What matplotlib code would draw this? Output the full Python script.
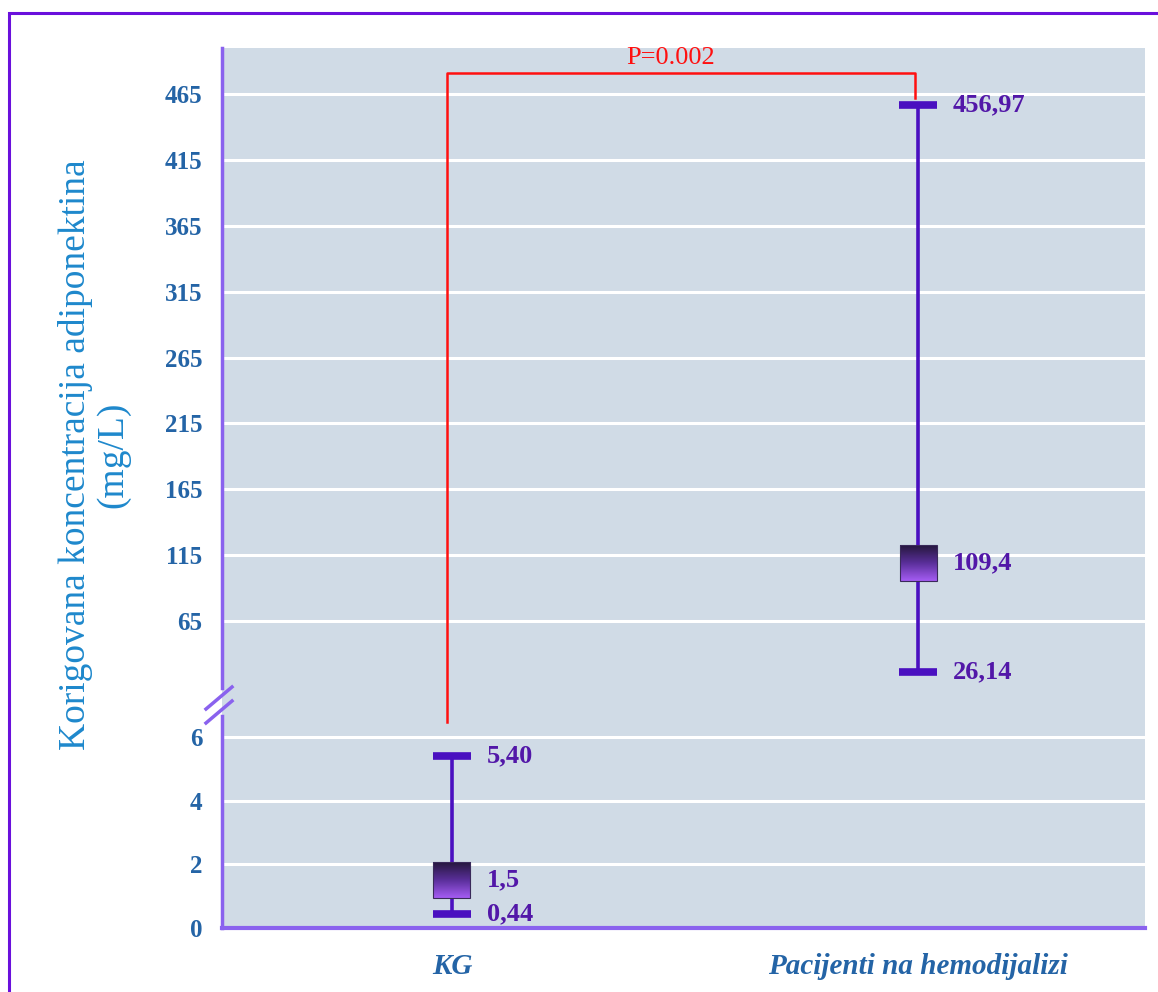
import numpy as np
import matplotlib
matplotlib.use("Agg")
import matplotlib.pyplot as plt
from matplotlib.patches import Rectangle
from matplotlib.lines import Line2D
from matplotlib.colors import LinearSegmentedColormap

# ---- data ----
groups = ["KG", "Pacijenti na hemodijalizi"]
group_x = [1, 3]
mins = [0.44, 26.14]
medians = [1.5, 109.4]
maxs = [5.40, 456.97]
min_labels = ["0,44", "26,14"]
median_labels = ["1,5", "109,4"]
max_labels = ["5,40", "456,97"]
upper_ticks = [65, 115, 165, 215, 265, 315, 365, 415, 465]
lower_ticks = [0, 2, 4, 6]
p_text = "P=0.002"

W, H = 1158, 992
fig = plt.figure(figsize=(W / 100, H / 100), dpi=100)
serif = ["Liberation Serif", "DejaVu Serif"]

bg = "#d0dbe6"
spine_c = "#8a62ee"
line_c = "#4a10c0"
lab_c = "#5217a8"
tick_c = "#2464a6"

def px(x0, y0, x1, y1):
    return [x0 / W, 1 - y1 / H, (x1 - x0) / W, (y1 - y0) / H]

ax_up = fig.add_axes(px(222, 48, 1145, 705))
ax_lo = fig.add_axes(px(222, 705, 1145, 928))

ax_up.set_ylim(1.3, 500)
ax_lo.set_ylim(0, 7.0)
for ax, ticks in ((ax_up, upper_ticks), (ax_lo, lower_ticks)):
    ax.set_facecolor(bg)
    ax.set_xlim(0.013, 3.974)
    ax.set_yticks(ticks)
    ax.set_yticklabels([str(t) for t in ticks], fontfamily=serif,
                       fontweight="bold", fontsize=18, color=tick_c)
    ax.tick_params(axis="y", length=0, pad=14)
    ax.tick_params(axis="x", length=0)
    for s in ("top", "right"):
        ax.spines[s].set_visible(False)
    ax.spines["left"].set_color(spine_c)
    ax.spines["left"].set_linewidth(2.5)
    ax.grid(axis="y", color="white", linewidth=2.2)
    ax.set_axisbelow(True)

ax_up.spines["bottom"].set_visible(False)
ax_up.set_xticks([])
ax_up.spines["left"].set_bounds(14, 500)
ax_lo.spines["left"].set_bounds(0, 6.66)
ax_lo.spines["bottom"].set_color(spine_c)
ax_lo.spines["bottom"].set_linewidth(3)
ax_lo.set_xticks(group_x)
ax_lo.set_xticklabels(groups, fontfamily=serif, fontweight="bold",
                      fontstyle="italic", fontsize=21, color=tick_c)
ax_lo.tick_params(axis="x", pad=18)

# gradient for boxes (dark on top, violet at bottom)
grad = np.linspace(0, 1, 64).reshape(-1, 1)
cmap = LinearSegmentedColormap.from_list("g", ["#26183e", "#5a2f9a", "#a45cf2"])

axes_for = [ax_lo, ax_up]
for i in range(len(groups)):
    ax = axes_for[i]
    x = group_x[i]
    ax.plot([x, x], [mins[i], maxs[i]], color=line_c, lw=2.6, zorder=3,
            solid_capstyle="butt")
    for v in (mins[i], maxs[i]):
        ax.plot([x], [v], marker="_", markersize=27, mew=5.5, color=line_c, zorder=4)
    cx, cy = ax.transData.transform((x, medians[i]))
    inv = ax.transData.inverted()
    (x0, y0) = inv.transform((cx - 18.5, cy - 18))
    (x1, y1) = inv.transform((cx + 18.5, cy + 18))
    ax.imshow(grad, cmap=cmap, extent=[x0, x1, y0, y1], aspect="auto",
              zorder=5, origin="upper")
    ax.add_patch(Rectangle((x0, y0), x1 - x0, y1 - y0, fill=False,
                           edgecolor="#3a2a5a", lw=0.8, zorder=6))
    lx = x + 0.15
    for v, t in ((mins[i], min_labels[i]), (medians[i], median_labels[i]),
                 (maxs[i], max_labels[i])):
        ax.text(lx, v, t, fontfamily=serif, fontweight="bold", fontsize=19,
                color=lab_c, va="center", ha="left", zorder=7)

ax_up.set_xlim(0.013, 3.974)
ax_lo.set_xlim(0.013, 3.974)
ax_up.set_aspect("auto")
ax_lo.set_aspect("auto")

# break marks
for dy in (-7, 7):
    yb = 705 + dy
    fig.add_artist(Line2D([206 / W, 232 / W], [1 - (yb + 11) / H, 1 - (yb - 11) / H],
                          transform=fig.transFigure, color=spine_c, lw=2.5))

# p-value bracket spanning both panels
def to_fig(ax, x, y):
    d = ax.transData.transform((x, y))
    return fig.transFigure.inverted().transform(d)

p1 = to_fig(ax_lo, 0.979, 6.47)
p2 = to_fig(ax_up, 0.979, 481)
p3 = to_fig(ax_up, 2.987, 481)
p4 = to_fig(ax_up, 2.987, 462)
fig.add_artist(Line2D([p1[0], p2[0], p3[0], p4[0]], [p1[1], p2[1], p3[1], p4[1]],
                      transform=fig.transFigure, color="#ff1010", lw=1.8, zorder=10))
fig.text((p2[0] + p3[0]) / 2 - 10 / W, p2[1] + 4 / H, p_text, color="#ff1010",
         fontfamily=serif, fontsize=19, ha="center", va="bottom")

# y label
fig.text(94 / W, 1 - 455 / H, "Korigovana koncentracija adiponektina\n(mg/L)",
         rotation=90, ha="center", va="center", multialignment="center",
         fontfamily=serif, fontsize=27, color="#1e88cc", linespacing=1.1)

# outer frame
fig.add_artist(Rectangle((9 / W, -0.1), 1.2, 1 - 13 / H + 0.1, fill=False,
                         edgecolor="#6a10dc", lw=2.2, transform=fig.transFigure))

fig.savefig("out.png", dpi=100)
